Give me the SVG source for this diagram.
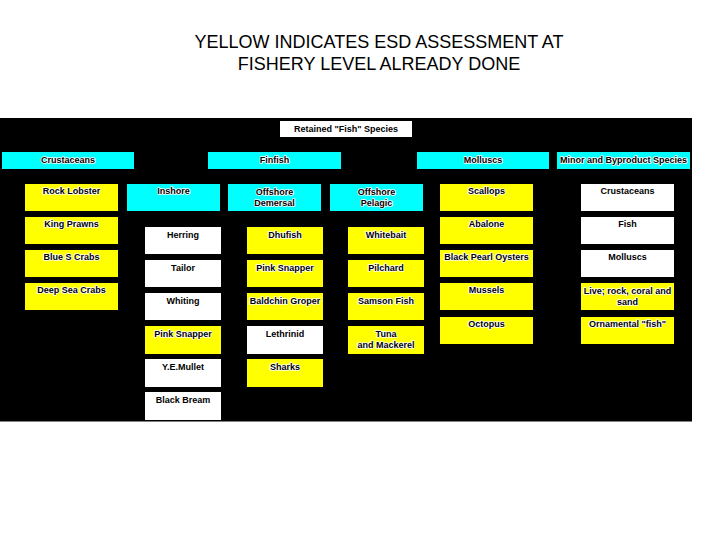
<svg xmlns="http://www.w3.org/2000/svg" width="720" height="540" viewBox="0 0 720 540">
<style>
.t{font-family:"Liberation Sans",Arial,sans-serif;font-size:9px;font-weight:bold;fill:#000;text-anchor:middle;stroke:#fff;stroke-width:1.6;stroke-linejoin:round;paint-order:stroke}
.title{font-family:"Liberation Sans",Arial,sans-serif;font-size:18px;fill:#000;text-anchor:middle}
.y{fill:#ffff00}.c{fill:#00ffff}.w{fill:#ffffff}
</style>
<rect width="720" height="540" fill="#fff"/>
<text class="title" x="379" y="48">YELLOW INDICATES ESD ASSESSMENT AT</text>
<text class="title" x="379" y="70">FISHERY LEVEL ALREADY DONE</text>
<rect x="0" y="118" width="692" height="303.5" fill="#000"/>
<g id="root"><rect class="w" x="280" y="121" width="132" height="16"/><text class="t" x="346" y="131.5">Retained "Fish" Species</text></g>
<g id="crustaceans"><rect class="c" x="2" y="152" width="132" height="17"/><text class="t" x="68" y="163">Crustaceans</text></g>
<g id="finfish"><rect class="c" x="208" y="152" width="133" height="17"/><text class="t" x="274.5" y="163">Finfish</text></g>
<g id="molluscs"><rect class="c" x="417" y="152" width="132" height="17"/><text class="t" x="483" y="163">Molluscs</text></g>
<g id="minor"><rect class="c" x="557" y="152" width="133" height="17"/><text class="t" x="623.5" y="163">Minor and Byproduct Species</text></g>

<g id="rock-lobster"><rect class="y" x="25" y="184" width="93" height="27"/><text class="t" x="71.5" y="194">Rock Lobster</text></g>
<g id="king-prawns"><rect class="y" x="25" y="217" width="93" height="27"/><text class="t" x="71.5" y="227">King Prawns</text></g>
<g id="blue-crabs"><rect class="y" x="25" y="250" width="93" height="27"/><text class="t" x="71.5" y="260">Blue S Crabs</text></g>
<g id="deep-sea-crabs"><rect class="y" x="25" y="283" width="93" height="27"/><text class="t" x="71.5" y="293">Deep Sea Crabs</text></g>

<g id="inshore"><rect class="c" x="127" y="184" width="93" height="27"/><text class="t" x="173.5" y="194">Inshore</text></g>
<g id="offshore-demersal"><rect class="c" x="228" y="184" width="93" height="27"/><text class="t" x="274.5" y="195">Offshore</text><text class="t" x="274.5" y="206">Demersal</text></g>
<g id="offshore-pelagic"><rect class="c" x="330" y="184" width="93" height="27"/><text class="t" x="376.5" y="195">Offshore</text><text class="t" x="376.5" y="206">Pelagic</text></g>

<g id="herring"><rect class="w" x="145" y="227" width="76" height="27"/><text class="t" x="183" y="237.5">Herring</text></g>
<g id="tailor"><rect class="w" x="145" y="260" width="76" height="27"/><text class="t" x="183" y="270.5">Tailor</text></g>
<g id="whiting"><rect class="w" x="145" y="293" width="76" height="27"/><text class="t" x="183" y="303.5">Whiting</text></g>
<g id="pink-snapper-inshore"><rect class="y" x="145" y="326" width="76" height="28"/><text class="t" x="183" y="336.5">Pink Snapper</text></g>
<g id="ye-mullet"><rect class="w" x="145" y="359" width="76" height="28"/><text class="t" x="183" y="369.5">Y.E.Mullet</text></g>
<g id="black-bream"><rect class="w" x="145" y="392" width="76" height="28"/><text class="t" x="183" y="402.5">Black Bream</text></g>

<g id="dhufish"><rect class="y" x="247" y="227" width="76" height="27"/><text class="t" x="285" y="237.5">Dhufish</text></g>
<g id="pink-snapper-demersal"><rect class="y" x="247" y="260" width="76" height="27"/><text class="t" x="285" y="270.5">Pink Snapper</text></g>
<g id="baldchin-groper"><rect class="y" x="247" y="293" width="76" height="27"/><text class="t" x="285" y="303.5">Baldchin Groper</text></g>
<g id="lethrinid"><rect class="w" x="247" y="326" width="76" height="28"/><text class="t" x="285" y="336.5">Lethrinid</text></g>
<g id="sharks"><rect class="y" x="247" y="359" width="76" height="28"/><text class="t" x="285" y="369.5">Sharks</text></g>

<g id="whitebait"><rect class="y" x="348" y="227" width="76" height="27"/><text class="t" x="386" y="237.5">Whitebait</text></g>
<g id="pilchard"><rect class="y" x="348" y="260" width="76" height="27"/><text class="t" x="386" y="270.5">Pilchard</text></g>
<g id="samson-fish"><rect class="y" x="348" y="293" width="76" height="27"/><text class="t" x="386" y="303.5">Samson Fish</text></g>
<g id="tuna-mackerel"><rect class="y" x="348" y="326" width="76" height="28"/><text class="t" x="386" y="337">Tuna</text><text class="t" x="386" y="348">and Mackerel</text></g>

<g id="scallops"><rect class="y" x="440" y="184" width="93" height="27"/><text class="t" x="486.5" y="194">Scallops</text></g>
<g id="abalone"><rect class="y" x="440" y="217" width="93" height="27"/><text class="t" x="486.5" y="227">Abalone</text></g>
<g id="black-pearl"><rect class="y" x="440" y="250" width="93" height="27"/><text class="t" x="486.5" y="260">Black Pearl Oysters</text></g>
<g id="mussels"><rect class="y" x="440" y="283" width="93" height="27"/><text class="t" x="486.5" y="293">Mussels</text></g>
<g id="octopus"><rect class="y" x="440" y="317" width="93" height="27"/><text class="t" x="486.5" y="327">Octopus</text></g>

<g id="minor-crustaceans"><rect class="w" x="581" y="184" width="93" height="27"/><text class="t" x="627.5" y="194">Crustaceans</text></g>
<g id="minor-fish"><rect class="w" x="581" y="217" width="93" height="27"/><text class="t" x="627.5" y="227">Fish</text></g>
<g id="minor-molluscs"><rect class="w" x="581" y="250" width="93" height="27"/><text class="t" x="627.5" y="260">Molluscs</text></g>
<g id="live-rock"><rect class="y" x="581" y="283" width="93" height="27"/><text class="t" x="627.5" y="293.5">Live; rock, coral and</text><text class="t" x="627.5" y="304.5">sand</text></g>
<g id="ornamental"><rect class="y" x="581" y="317" width="93" height="27"/><text class="t" x="627.5" y="327">Ornamental "fish"</text></g>
<g id="connectors"></g>
</svg>
